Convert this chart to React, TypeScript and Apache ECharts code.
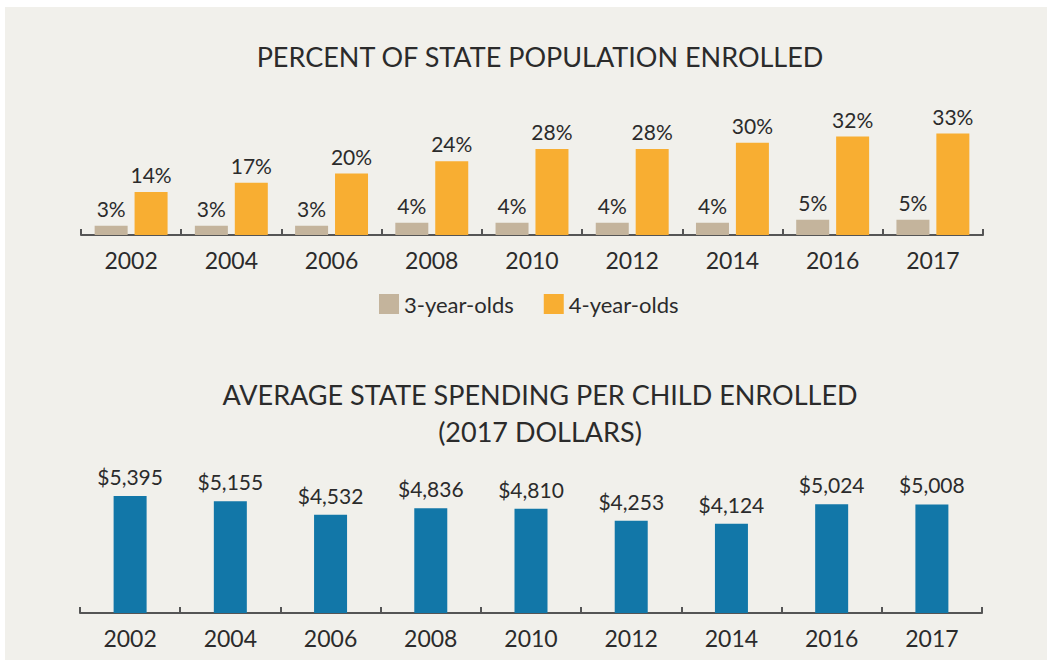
import React, { useEffect, useRef } from "react";
import * as echarts from "echarts";

const years = ["2002", "2004", "2006", "2008", "2010", "2012", "2014", "2016", "2017"];
const threeYearOlds = [3, 3, 3, 4, 4, 4, 4, 5, 5];
const fourYearOlds = [14, 17, 20, 24, 28, 28, 30, 32, 33];
const spending = [5395, 5155, 4532, 4836, 4810, 4253, 4124, 5024, 5008];

const FONT = "Lato, 'Open Sans', sans-serif";
const TEXT = "#2b2b2b";
const TAN = "#c4b49c";
const ORANGE = "#f8ae32";
const BLUE = "#1277a8";

export default function App() {
  const ref = useRef<HTMLDivElement>(null);
  useEffect(() => {
    if (!ref.current) return;
    const chart = echarts.init(ref.current, null, { renderer: "svg" });
    const axisCommon = (gridIndex: number) => ({
      type: "category" as const,
      gridIndex,
      data: years,
      axisLine: { show: true, lineStyle: { color: "#555", width: 2 } },
      axisTick: { show: true, inside: true, length: 6, lineStyle: { color: "#555", width: 2 } },
      axisLabel: { fontSize: 23, color: TEXT, fontFamily: FONT, margin: 13 },
    });
    const valueLabel = { fontSize: 21, color: TEXT, fontFamily: FONT };
    chart.setOption({
      animation: false,
      backgroundColor: "#ffffff",
      textStyle: { fontFamily: FONT },
      graphic: [
        {
          type: "rect",
          z: -10,
          shape: { x: 5, y: 7, width: 1050, height: 660 },
          style: { fill: "#f1f0eb" },
          silent: true,
        },
      ],
      title: [
        {
          text: "PERCENT OF STATE POPULATION ENROLLED",
          left: 535,
          textAlign: "center",
          top: 38,
          textStyle: { fontSize: 27, fontWeight: "normal", color: TEXT, fontFamily: FONT },
        },
        {
          text: "AVERAGE STATE SPENDING PER CHILD ENROLLED\n(2017 DOLLARS)",
          left: 535,
          textAlign: "center",
          top: 371,
          textStyle: { fontSize: 27, fontWeight: "normal", color: TEXT, fontFamily: FONT, lineHeight: 37 },
        },
      ],
      legend: {
        data: ["3-year-olds", "4-year-olds"],
        left: 374,
        top: 288,
        itemWidth: 20,
        itemHeight: 20,
        itemGap: 30,
        icon: "rect",
        textStyle: { fontSize: 22, color: TEXT, fontFamily: FONT },
      },
      grid: [
        { left: 81, width: 902, top: 112, height: 123 },
        { left: 80, width: 902, top: 483, height: 130 },
      ],
      xAxis: [axisCommon(0), axisCommon(1)],
      yAxis: [
        { type: "value", gridIndex: 0, min: 0, max: 40, show: false, splitLine: { show: false } },
        { type: "value", gridIndex: 1, min: 0, max: 6000, show: false, splitLine: { show: false } },
      ],
      series: [
        {
          name: "3-year-olds",
          type: "bar",
          xAxisIndex: 0,
          yAxisIndex: 0,
          data: threeYearOlds,
          barWidth: 33,
          barGap: "21%",
          itemStyle: { color: TAN },
          label: { show: true, position: "top", distance: 7, formatter: "{c}%", ...valueLabel },
        },
        {
          name: "4-year-olds",
          type: "bar",
          xAxisIndex: 0,
          yAxisIndex: 0,
          data: fourYearOlds,
          barWidth: 33,
          barGap: "21%",
          itemStyle: { color: ORANGE },
          label: { show: true, position: "top", distance: 7, formatter: "{c}%", ...valueLabel },
        },
        {
          name: "Spending",
          type: "bar",
          xAxisIndex: 1,
          yAxisIndex: 1,
          data: spending,
          barWidth: 33,
          itemStyle: { color: BLUE },
          label: {
            show: true,
            position: "top",
            distance: 9,
            formatter: (p: any) => "$" + Number(p.value).toLocaleString("en-US"),
            ...valueLabel,
          },
        },
      ],
    });
    return () => chart.dispose();
  }, []);
  return (
    <div style={{ position: "absolute", left: 0, top: 0, width: 1047, height: 660 }}>
      <div ref={ref} style={{ width: 1047, height: 660 }} />
    </div>
  );
}
